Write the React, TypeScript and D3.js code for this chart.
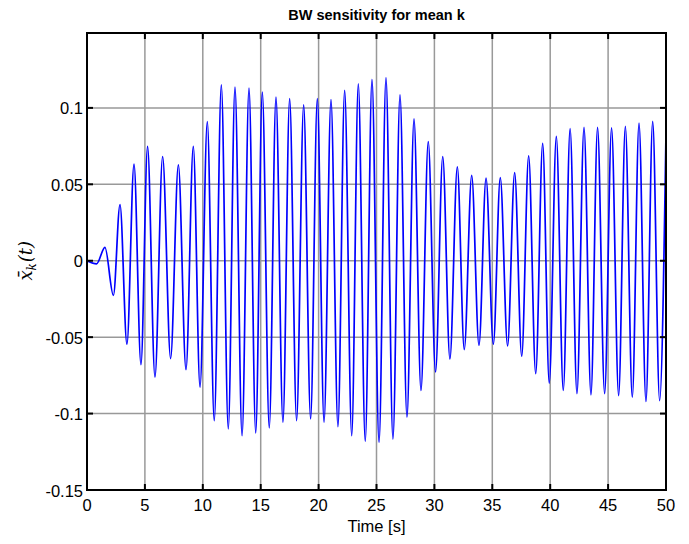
import React from 'react';
import * as d3 from 'd3';

// turning points of the response: time [s] and value
const peakTimes = [
  0, 0.83, 1.55, 2.28, 2.85, 3.45, 4.06, 4.66, 5.23, 5.87, 6.53, 7.22, 7.89, 8.55, 9.18, 9.76,
  10.39, 10.99, 11.6, 12.2, 12.78, 13.39, 13.99, 14.57, 15.14, 15.74, 16.32, 16.92, 17.5, 18.1,
  18.71, 19.31, 19.89, 20.47, 21.07, 21.67, 22.25, 22.86, 23.43, 24.03, 24.61, 25.22, 25.82,
  26.42, 27.03, 27.63, 28.24, 28.84, 29.47, 30.1, 30.72, 31.34, 31.98, 32.58, 33.22, 33.85,
  34.46, 35.09, 35.69, 36.32, 36.93, 37.54, 38.14, 38.75, 39.35, 39.92, 40.53, 41.13, 41.72,
  42.31, 42.92, 43.52, 44.09, 44.7, 45.3, 45.91, 46.49, 47.09, 47.67, 48.27, 48.85, 49.45, 50,
];
const peakValues = [
  0, -0.002, 0.0088, -0.0226, 0.0368, -0.0546, 0.0632, -0.068, 0.0748, -0.0761, 0.0682, -0.064,
  0.0627, -0.0713, 0.0748, -0.0827, 0.091, -0.1046, 0.1151, -0.11, 0.1136, -0.1145, 0.113,
  -0.1127, 0.1103, -0.1094, 0.107, -0.1057, 0.106, -0.1046, 0.102, -0.1035, 0.106, -0.1057,
  0.1055, -0.1086, 0.1114, -0.1145, 0.1158, -0.1182, 0.1187, -0.1189, 0.1198, -0.1167, 0.1086,
  -0.1024, 0.0928, -0.0849, 0.0779, -0.0728, 0.0682, -0.0643, 0.0614, -0.0581, 0.0559, -0.0553,
  0.054, -0.0546, 0.0544, -0.0557, 0.0577, -0.0625, 0.0686, -0.0739, 0.0768, -0.0801, 0.0814,
  -0.0849, 0.0865, -0.087, 0.0873, -0.0877, 0.0873, -0.087, 0.0869, -0.0882, 0.088, -0.0893,
  0.0901, -0.0921, 0.0912, -0.0915, 0.084,
];

const xTicks = [0, 5, 10, 15, 20, 25, 30, 35, 40, 45, 50];
const yTicks = [-0.15, -0.1, -0.05, 0, 0.05, 0.1];
const yTickLabels = ['-0.15', '-0.1', '-0.05', '0', '0.05', '0.1'];

const W = 689;
const H = 544;
const left = 87, right = 666, top = 33, bottom = 490;

export default function App() {
  const x = d3.scaleLinear().domain([0, 50]).range([left, right]);
  const y = d3.scaleLinear().domain([-0.15, 0.149]).range([bottom, top]);

  const pts = peakTimes.map((t, i) => [t, peakValues[i]] as [number, number]);
  const line = d3.line<[number, number]>()
    .x(d => x(d[0]))
    .y(d => y(d[1]))
    .curve(d3.curveMonotoneX);

  const font = 'Liberation Sans, Arial, Helvetica, sans-serif';

  return (
    <svg width={W} height={H} style={{ position: 'absolute', left: 0, top: 0, background: '#fff' }}>
      <rect x={0} y={0} width={W} height={H} fill="#fff" />
      {/* grid */}
      <g stroke="#999" strokeWidth={1.5}>
        {xTicks.slice(1, -1).map(t => (
          <line key={'gx' + t} x1={x(t)} x2={x(t)} y1={top} y2={bottom} />
        ))}
        {yTicks.slice(1).map(t => (
          <line key={'gy' + t} x1={left} x2={right} y1={y(t)} y2={y(t)} />
        ))}
      </g>
      <clipPath id="plotclip">
        <rect x={left} y={top} width={right - left} height={bottom - top} />
      </clipPath>
      <path d={line(pts) ?? ''} fill="none" stroke="#0000ff" strokeWidth={1.7} clipPath="url(#plotclip)" />
      {/* ticks, inward on all four sides */}
      <g stroke="#000" strokeWidth={2}>
        {xTicks.map(t => (
          <g key={'tx' + t}>
            <line x1={x(t)} x2={x(t)} y1={bottom} y2={bottom - 6} />
            <line x1={x(t)} x2={x(t)} y1={top} y2={top + 6} />
          </g>
        ))}
        {yTicks.map(t => (
          <g key={'ty' + t}>
            <line x1={left} x2={left + 6} y1={y(t)} y2={y(t)} />
            <line x1={right} x2={right - 6} y1={y(t)} y2={y(t)} />
          </g>
        ))}
      </g>
      <rect x={left} y={top} width={right - left} height={bottom - top} fill="none" stroke="#000" strokeWidth={2} />
      {/* tick labels */}
      <g fontFamily={font} fontSize={16.5} fill="#000">
        {xTicks.map(t => (
          <text key={'lx' + t} x={x(t)} y={bottom + 21} textAnchor="middle">{t}</text>
        ))}
        {yTicks.map((t, i) => (
          <text key={'ly' + t} x={left - 4} y={y(t) + 6.5} textAnchor="end">{yTickLabels[i]}</text>
        ))}
      </g>
      <text x={(left + right) / 2} y={20} textAnchor="middle" fontFamily={font} fontSize={14.5} fontWeight="bold">
        BW sensitivity for mean k
      </text>
      <text x={(left + right) / 2} y={532} textAnchor="middle" fontFamily={font} fontSize={16.5}>
        Time [s]
      </text>
      <text
        transform={`translate(32, ${y(0)}) rotate(-90)`}
        textAnchor="middle"
        fontFamily="DejaVu Serif, Liberation Serif, serif"
        fontStyle="italic"
        fontSize={18}
      >
        <tspan>x̄</tspan>
        <tspan fontSize={12} dy={4}>k</tspan>
        <tspan dy={-4} dx={1}>(t)</tspan>
      </text>
    </svg>
  );
}
